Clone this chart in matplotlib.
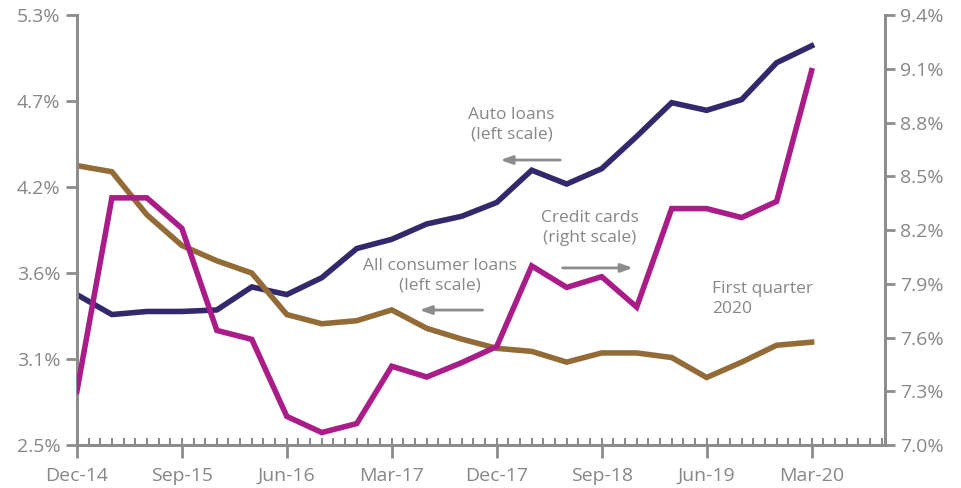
import numpy as np
import matplotlib.pyplot as plt
from matplotlib.ticker import FixedLocator, MultipleLocator, FuncFormatter

plt.rcParams['font.family'] = ['Open Sans', 'DejaVu Sans']

# Quarterly data, Dec-14 .. Mar-20 (months since Dec-14)
months = np.arange(0, 64, 3)
auto_loans = [3.48, 3.35, 3.37, 3.37, 3.38, 3.53, 3.48, 3.59, 3.78, 3.84, 3.94,
              3.99, 4.08, 4.29, 4.20, 4.30, 4.51, 4.73, 4.68, 4.75, 4.99, 5.10]
all_consumer = [4.32, 4.28, 4.00, 3.80, 3.70, 3.62, 3.35, 3.29, 3.31, 3.38, 3.26,
                3.19, 3.13, 3.11, 3.04, 3.10, 3.10, 3.07, 2.94, 3.04, 3.15, 3.17]
credit_cards = [7.30, 8.38, 8.38, 8.21, 7.64, 7.59, 7.16, 7.07, 7.12, 7.44, 7.38,
                7.46, 7.55, 8.00, 7.88, 7.94, 7.77, 8.32, 8.32, 8.27, 8.36, 9.09]

tick_months = [0, 9, 18, 27, 36, 45, 54, 63]
tick_labels = ["Dec-14", "Sep-15", "Jun-16", "Mar-17", "Dec-17", "Sep-18", "Jun-19", "Mar-20"]

NAVY = "#33286b"
BROWN = "#936b36"
MAGENTA = "#aa1d88"
GRAY = "#8c8c8c"
TEXT = "#878787"

fig = plt.figure(figsize=(9.61, 4.88), dpi=100)
ax = fig.add_axes([0.080, 0.088, 0.841, 0.881])
ax2 = ax.twinx()

ax.plot(months, auto_loans, color=NAVY, lw=4, solid_joinstyle='miter', zorder=3)
ax.plot(months, all_consumer, color=BROWN, lw=4, solid_joinstyle='miter', zorder=3)
ax2.plot(months, credit_cards, color=MAGENTA, lw=4, solid_joinstyle='miter', zorder=3)

ax.set_xlim(0, 69.3)
ax.set_ylim(2.5, 5.3)
ax2.set_ylim(7.0, 9.4)

ax.yaxis.set_major_locator(FixedLocator(np.linspace(2.5, 5.3, 6)))
ax2.yaxis.set_major_locator(FixedLocator(np.linspace(7.0, 9.4, 9)))
pct = FuncFormatter(lambda v, p: f"{v:.1f}%")
ax.yaxis.set_major_formatter(pct)
ax2.yaxis.set_major_formatter(pct)

ax.set_xticks(tick_months)
ax.set_xticklabels(tick_labels)
ax.xaxis.set_minor_locator(MultipleLocator(1))
ax.xaxis.remove_overlapping_locs = False

for a in (ax, ax2):
    a.spines['top'].set_visible(False)
    for s in ('left', 'right', 'bottom'):
        a.spines[s].set_color(GRAY)
        a.spines[s].set_linewidth(2)

ax.tick_params(axis='x', which='major', direction='out', length=9, width=2,
               color=GRAY, labelcolor=TEXT, labelsize=14, pad=7)
ax.tick_params(axis='x', which='minor', direction='in', length=5, width=1.5, color=GRAY)
ax.tick_params(axis='y', direction='out', length=8, width=2, color=GRAY,
               labelcolor=TEXT, labelsize=14, pad=4)
ax2.tick_params(axis='y', direction='out', length=7, width=2, color=GRAY,
                labelcolor=TEXT, labelsize=14, pad=4)

# Annotations
txt = dict(transform=ax.transAxes, color=TEXT, fontsize=12.5, linespacing=1.3)
ax.text(0.538, 0.744, "Auto loans\n(left scale)", ha='center', va='center', **txt)
ax.text(0.635, 0.505, "Credit cards\n(right scale)", ha='center', va='center', **txt)
ax.text(0.449, 0.393, "All consumer loans\n(left scale)", ha='center', va='center', **txt)
ax.text(0.786, 0.340, "First quarter\n2020", ha='left', va='center', **txt)

arrow = dict(arrowstyle='-|>,head_length=0.7,head_width=0.25', color=GRAY, lw=2,
             shrinkA=0, shrinkB=0)
ax.annotate("", xy=(0.524, 0.663), xytext=(0.598, 0.663), xycoords='axes fraction',
            textcoords='axes fraction', arrowprops=arrow)
ax.annotate("", xy=(0.688, 0.412), xytext=(0.601, 0.412), xycoords='axes fraction',
            textcoords='axes fraction', arrowprops=arrow)
ax.annotate("", xy=(0.424, 0.314), xytext=(0.502, 0.314), xycoords='axes fraction',
            textcoords='axes fraction', arrowprops=arrow)

fig.savefig("out.png", dpi=100)
